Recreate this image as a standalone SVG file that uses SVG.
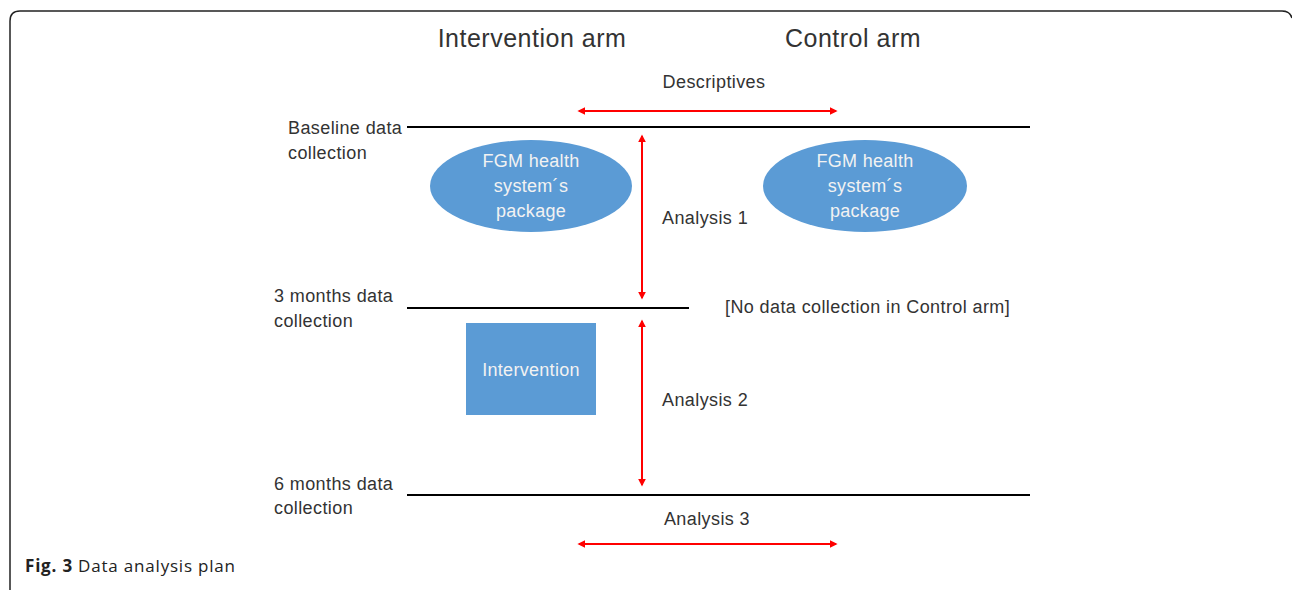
<svg xmlns="http://www.w3.org/2000/svg" width="1292" height="590" viewBox="0 0 1292 590">
<defs>
<style>
.t{font-family:"Liberation Sans",Arial,sans-serif;fill:#333;}
.lbl{font-size:18px;letter-spacing:0.4px;}
.head{font-size:25px;letter-spacing:0.5px;}
.w{font-family:"Liberation Sans",Arial,sans-serif;fill:#f2f2f2;font-size:18px;letter-spacing:0.3px;text-anchor:middle;}
.hl{stroke:#000;stroke-width:2;fill:none;}
.ra{stroke:#ff0000;stroke-width:2;fill:none;marker-start:url(#ah);marker-end:url(#ah);}
.cap{font-family:"Open Sans","Noto Sans",sans-serif;font-size:17px;letter-spacing:0.8px;fill:#222;}
</style>
<marker id="ah" viewBox="0 0 10 10" refX="8" refY="5" markerWidth="4" markerHeight="4" orient="auto-start-reverse">
<path d="M0,0 L10,5 L0,10 z" fill="#ff0000"/>
</marker>
</defs>
<rect width="1292" height="590" fill="#fff"/>
<path d="M10,590 L10,21 Q10,11 20,11 L1282,11 Q1290,11 1292,18" fill="none" stroke="#222" stroke-width="1.5"/>

<g id="headings">
<text class="t head" x="532" y="47" text-anchor="middle">Intervention arm</text>
<text class="t head" x="853" y="47" text-anchor="middle">Control arm</text>
</g>

<g id="timepoints">
<line class="hl" x1="407" y1="127" x2="1030" y2="127"/>
<line class="hl" x1="407" y1="308" x2="689" y2="308"/>
<line class="hl" x1="407" y1="495" x2="1030" y2="495"/>
<text class="t lbl" x="288" y="134">Baseline data</text>
<text class="t lbl" x="288" y="159">collection</text>
<text class="t lbl" x="274" y="302">3 months data</text>
<text class="t lbl" x="274" y="327">collection</text>
<text class="t lbl" x="274" y="490">6 months data</text>
<text class="t lbl" x="274" y="514">collection</text>
<text class="t lbl" x="725" y="313">[No data collection in Control arm]</text>
</g>

<g id="fgm-intervention">
<ellipse cx="531" cy="186" rx="101" ry="46" fill="#5b9bd5"/>
<text class="w" x="531" y="167">FGM health</text>
<text class="w" x="531" y="192">system´s</text>
<text class="w" x="531" y="217">package</text>
</g>

<g id="fgm-control">
<ellipse cx="865" cy="186" rx="102" ry="46" fill="#5b9bd5"/>
<text class="w" x="865" y="167">FGM health</text>
<text class="w" x="865" y="192">system´s</text>
<text class="w" x="865" y="217">package</text>
</g>

<g id="intervention">
<rect x="466" y="323" width="130" height="92" fill="#5b9bd5"/>
<text class="w" x="531" y="376">Intervention</text>
</g>

<g id="connectors">
<line class="ra" x1="579" y1="111" x2="836" y2="111"/>
<line class="ra" x1="642" y1="136" x2="642" y2="298"/>
<line class="ra" x1="642" y1="321" x2="642" y2="485"/>
<line class="ra" x1="579" y1="544" x2="836" y2="544"/>
</g>

<g id="analysis-labels">
<text class="t lbl" x="714" y="88" text-anchor="middle">Descriptives</text>
<text class="t lbl" x="662" y="224">Analysis 1</text>
<text class="t lbl" x="662" y="406">Analysis 2</text>
<text class="t lbl" x="707" y="525" text-anchor="middle">Analysis 3</text>
</g>

<g id="caption">
<text class="cap" x="25" y="572"><tspan font-weight="bold">Fig. 3</tspan> Data analysis plan</text>
</g>
</svg>
